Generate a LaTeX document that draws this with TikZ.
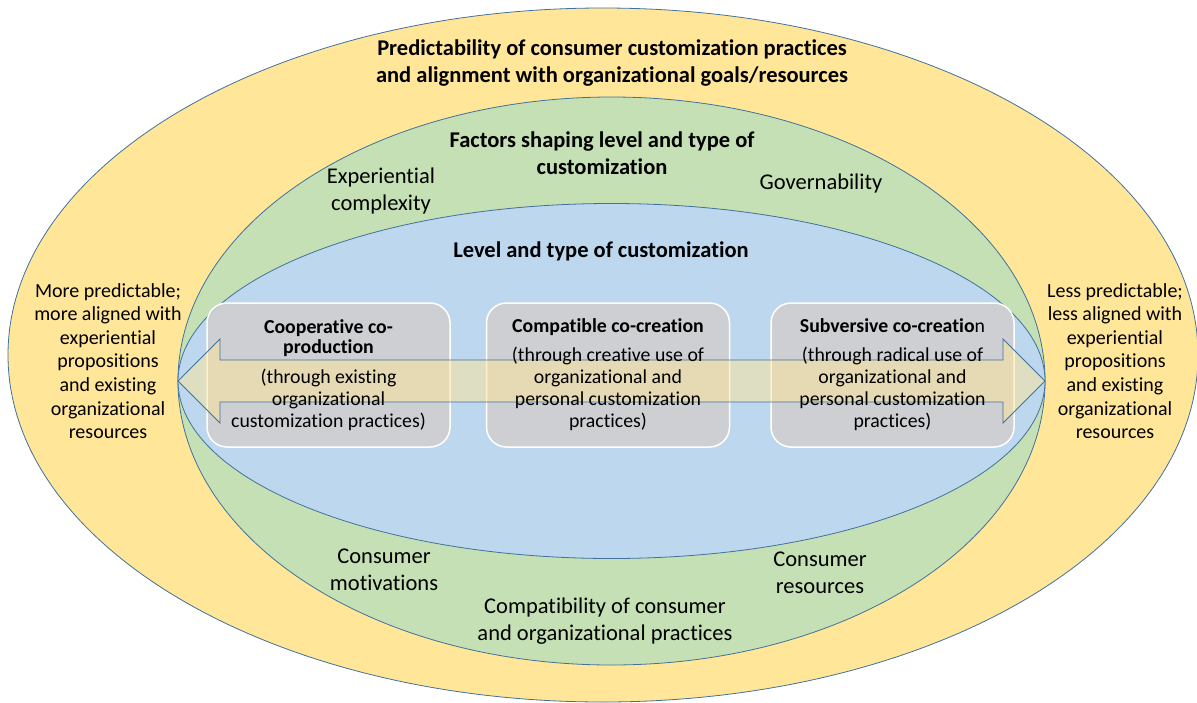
\documentclass[tikz,border=0pt]{standalone}
\usepackage{fontspec}
\setmainfont{Carlito}[Ligatures=NoCommon]
\usetikzlibrary{positioning}

\definecolor{outerfill}{HTML}{FFE699}
\definecolor{midfill}{HTML}{C5E0B4}
\definecolor{innerfill}{HTML}{BDD7EE}
\definecolor{ringline}{HTML}{41719C}
\definecolor{boxgray}{HTML}{D0CECE}

\begin{document}
\begin{tikzpicture}[x=1pt, y=-1pt,
ring/.style={draw=ringline, line width=0.8pt},
heading/.style={font=\fontsize{22.5}{27}\selectfont\bfseries, align=center},
factor/.style={font=\fontsize{22.5}{27}\selectfont, align=center},
side/.style={font=\fontsize{20}{23.6}\selectfont, align=center},
modebox/.style={rectangle, rounded corners=20pt, draw=white, line width=1.5pt, fill=boxgray, fill opacity=0.85, minimum width=243pt, minimum height=144pt},
modetext/.style={font=\fontsize{19.8}{22}\selectfont, align=center},
scalearrow/.style={draw=ringline, line width=0.8pt, fill=outerfill, fill opacity=0.5}
]
\useasboundingbox (0,0) rectangle (1197,702);

% nested ellipses
\draw[ring, fill=outerfill] (603,355) ellipse [x radius=595pt, y radius=347pt];
\draw[ring, fill=midfill] (611.5,381) ellipse [x radius=433.5pt, y radius=284pt];
\draw[ring, fill=innerfill] (611.5,381) ellipse [x radius=433.5pt, y radius=177.5pt];

% three kinds of co-creation
\node[modebox] (coop) at (328.5,375) {};
\node[modebox] (compat) at (608,375) {};
\node[modebox] (subv) at (892.5,375) {};

% double arrow from tip to tip
\coordinate (lefttip) at (178,381);
\coordinate (righttip) at (1045,381);
\draw[scalearrow] (lefttip) -- (220,339) -- (220,360) -- (1003,360) -- (1003,339) -- (righttip)
  -- (1003,423) -- (1003,402) -- (220,402) -- (220,423) -- cycle;

% ring headings
\node[heading] (outerT) at (612,63.5) {Predictability of consumer customization practices\\and alignment with organizational goals/resources};
\node[heading] (midT) at (602,153.5) {Factors shaping level and type of\\customization};
\node[heading] (innerT) at (601,251) {Level and type of customization};

% factors
\node[factor] (expc) at (381,190.5) {Experiential\\complexity};
\node[factor] (gov) at (821,183) {Governability};
\node[factor] (motiv) at (384,569.5) {Consumer\\motivations};
\node[factor] (cres) at (820,573) {Consumer\\resources};
\node[factor] (fit) at (605,621) {Compatibility of consumer\\and organizational practices};

% both ends of the scale
\node[side] (morep) at (108,361) {More predictable;\\more aligned with\\experiential\\propositions\\and existing\\organizational\\resources};
\node[side] (lessp) at (1115,361) {Less predictable;\\less aligned with\\experiential\\propositions\\and existing\\organizational\\resources};

% box texts
\node[modetext] (coopT) at (coop) {\textbf{Cooperative co-}\\[-2pt]\textbf{production}\\[8pt](through existing\\organizational\\customization practices)};
\node[modetext] (compatT) at (compat) {\textbf{Compatible co-creation}\\[7pt](through creative use of\\organizational and\\personal customization\\practices)};
\node[modetext] (subvT) at (subv) {\textbf{Subversive co-creatio}n\\[7pt](through radical use of\\organizational and\\personal customization\\practices)};

\end{tikzpicture}
\end{document}
